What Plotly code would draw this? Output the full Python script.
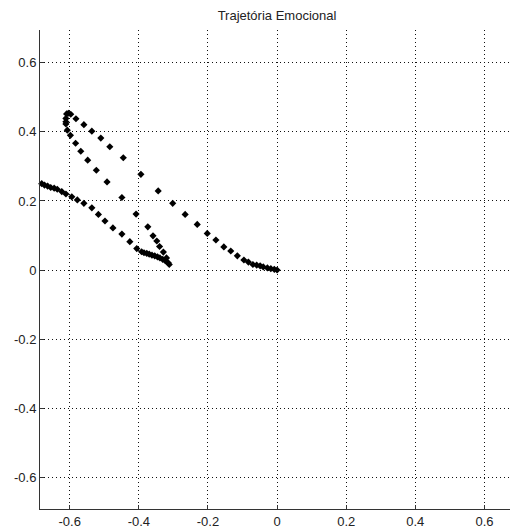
import plotly.graph_objects as go

# Trajectory points (valence x, arousal y)
x_vals = [
    0.000, -0.008, -0.018, -0.028, -0.040, -0.049, -0.059, -0.070, -0.083, -0.096,
    -0.115, -0.134, -0.154, -0.177, -0.202, -0.231, -0.266, -0.302, -0.344, -0.394,
    -0.445, -0.484, -0.510, -0.536, -0.559, -0.582,
    -0.597, -0.604, -0.609, -0.611, -0.611, -0.611, -0.607, -0.598,
    -0.583, -0.568, -0.548, -0.523, -0.492, -0.449, -0.408, -0.374, -0.359, -0.348,
    -0.340, -0.329, -0.320, -0.312,
    -0.315, -0.323, -0.331, -0.339, -0.346, -0.354, -0.362, -0.370, -0.377, -0.385, -0.392,
    -0.406, -0.426, -0.449, -0.475, -0.498, -0.517, -0.536, -0.559, -0.578, -0.594,
    -0.611, -0.623, -0.636, -0.645, -0.655, -0.664, -0.673, -0.681, -0.691,
]
y_vals = [
    0.000, 0.002, 0.004, 0.006, 0.009, 0.012, 0.014, 0.016, 0.023, 0.029,
    0.041, 0.055, 0.067, 0.087, 0.106, 0.132, 0.161, 0.193, 0.229, 0.277,
    0.325, 0.357, 0.382, 0.402, 0.421, 0.438,
    0.451, 0.454, 0.452, 0.439, 0.429, 0.423, 0.405, 0.390,
    0.367, 0.344, 0.318, 0.289, 0.255, 0.210, 0.162, 0.125, 0.099, 0.084,
    0.068, 0.052, 0.035, 0.016,
    0.021, 0.026, 0.031, 0.035, 0.038, 0.041, 0.043, 0.046, 0.048, 0.050, 0.053,
    0.062, 0.082, 0.104, 0.122, 0.142, 0.161, 0.180, 0.193, 0.203, 0.212,
    0.220, 0.227, 0.234, 0.237, 0.239, 0.243, 0.246, 0.250, 0.254,
]

tick_vals = [-0.6, -0.4, -0.2, 0, 0.2, 0.4, 0.6]
tick_text = ["-0.6", "-0.4", "-0.2", "0", "0.2", "0.4", "0.6"]
title_text = "Trajetória Emocional"

fig = go.Figure()
fig.add_trace(go.Scatter(
    x=x_vals, y=y_vals, mode="markers",
    marker=dict(symbol="diamond", size=5.5, color="black", line=dict(width=0)),
    cliponaxis=False, hoverinfo="skip",
))

axis_common = dict(
    tickvals=tick_vals, ticktext=tick_text,
    showgrid=True, gridcolor="#111111", gridwidth=1, griddash="1px,3px",
    zeroline=False, showline=True, linecolor="#333333", linewidth=1,
    ticks="inside", ticklen=4, tickcolor="#333333",
    tickfont=dict(family="Liberation Sans, Arial", size=13, color="#222222"),
    mirror=False, automargin=False,
)

fig.update_layout(
    width=510, height=532,
    margin=dict(l=40, r=0, t=30, b=23, autoexpand=False),
    paper_bgcolor="white", plot_bgcolor="white",
    showlegend=False,
    title=dict(text=title_text, x=(277 / 510), xref="container", xanchor="center",
               y=1 - 15 / 532, yref="container", yanchor="middle",
               font=dict(family="Liberation Sans, Arial", size=13, color="#222222")),
    xaxis=dict(range=[-0.686, 0.674], **axis_common),
    yaxis=dict(range=[-0.692, 0.695], **axis_common),
)

fig.write_html("out.html", config={"displayModeBar": False},
               post_script="document.body.style.margin='0';")
